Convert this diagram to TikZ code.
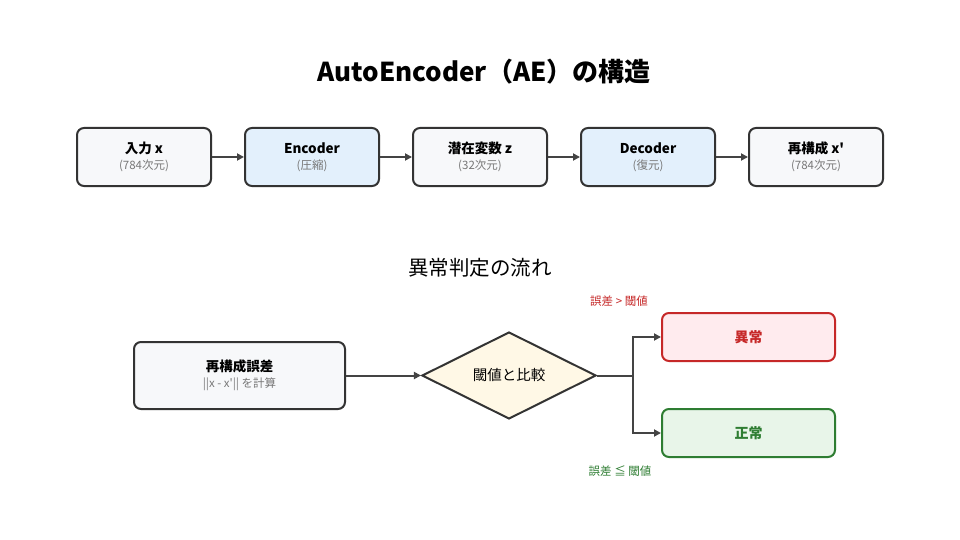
\documentclass[tikz,border=0pt]{standalone}
\usepackage{fontspec}
\setmainfont{Noto Sans CJK JP}
\newfontfamily\jpf{Noto Sans CJK JP}
\usetikzlibrary{arrows.meta,shapes.geometric,positioning}
\definecolor{edge}{HTML}{333333}
\definecolor{arr}{HTML}{444444}
\definecolor{greyfill}{HTML}{F7F8FA}
\definecolor{bluefill}{HTML}{E3F0FC}
\definecolor{yelfill}{HTML}{FFF8E6}
\definecolor{redfill}{HTML}{FFEBEE}
\definecolor{redline}{HTML}{C62828}
\definecolor{greenfill}{HTML}{E8F5E9}
\definecolor{greenline}{HTML}{2E7D32}
\definecolor{subtext}{HTML}{777777}
\tikzset{
  every node/.style={font=\jpf},
  topbox/.style={draw=edge, line width=2pt, rounded corners=7pt, minimum width=134pt, minimum height=58pt, align=center, inner sep=0pt},
  conn/.style={draw=arr, line width=2pt, -{Triangle[length=7pt,width=7pt]}}
}
\newcommand{\twol}[2]{{\fontsize{13.5}{15}\selectfont\bfseries #1}\\[4pt]{\fontsize{11.5}{12}\selectfont\color{subtext}#2}}
\begin{document}
\begin{tikzpicture}[x=1pt,y=-1pt]
\useasboundingbox (0,0) rectangle (960,540);
\fill[white] (0,0) rectangle (960,540);
\node (title) at (484,72) {\fontsize{26}{30}\selectfont\bfseries AutoEncoder（AE）の構造};
\node[topbox, fill=greyfill] (in) at (144,157) {\twol{入力 x}{(784次元)}};
\node[topbox, fill=bluefill] (enc) at (312,157) {\twol{Encoder}{(圧縮)}};
\node[topbox, fill=greyfill] (z) at (480,157) {\twol{潜在変数 z}{(32次元)}};
\node[topbox, fill=bluefill] (dec) at (648,157) {\twol{Decoder}{(復元)}};
\node[topbox, fill=greyfill] (out) at (816,157) {\twol{再構成 x'}{(784次元)}};
\draw[conn] (in) -- (enc);
\draw[conn] (enc) -- (z);
\draw[conn] (z) -- (dec);
\draw[conn] (dec) -- (out);
\node (sub) at (480,268) {\fontsize{20.5}{24}\selectfont 異常判定の流れ};
\node[topbox, fill=greyfill, minimum width=211pt, minimum height=67pt] (err) at (239.5,375.5) {\twol{再構成誤差}{||x - x'|| を計算}};
\node[diamond, draw=edge, line width=2pt, fill=yelfill, minimum width=174pt, minimum height=87pt, inner sep=0pt, aspect=2] (cmp) at (509,375.5) {\fontsize{14.5}{16}\selectfont 閾値と比較};
\node[topbox, draw=redline, fill=redfill, minimum width=173pt, minimum height=48pt] (ab) at (748.5,337) {\fontsize{14}{16}\selectfont\bfseries\color{redline}異常};
\node[topbox, draw=greenline, fill=greenfill, minimum width=173pt, minimum height=48pt] (ok) at (748.5,433) {\fontsize{14}{16}\selectfont\bfseries\color{greenline}正常};
\draw[conn] (err) -- (cmp);
\coordinate (br) at (633,375.5);
\draw[draw=arr, line width=2pt] (cmp.east) -- (br);
\draw[conn] (br) |- (ab.west);
\draw[conn] (br) |- (ok.west);
\node[text=redline, font=\jpf\fontsize{11.5}{13}\selectfont] (l1) at (619,301) {誤差 > 閾値};
\node[text=greenline, font=\jpf\fontsize{11.5}{13}\selectfont] (l2) at (620,471) {誤差 ≦ 閾値};
\end{tikzpicture}
\end{document}
